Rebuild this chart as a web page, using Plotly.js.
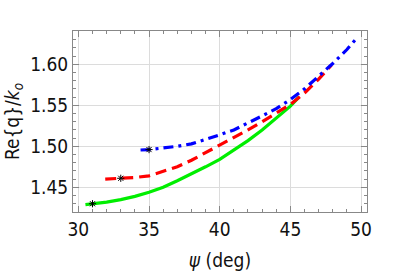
<!DOCTYPE html>
<html><head><meta charset="utf-8">
<script src="https://cdn.plot.ly/plotly-3.0.1.min.js"></script>
<style>body{margin:0;padding:0;background:#fff}#c{width:398px;height:272px}</style>
</head><body><div id="c"></div>
<script>
// green solid
const greenX = [30.5, 31, 32, 33, 34, 35, 36, 37, 38, 39, 40, 41, 42, 43, 44, 45, 45.6];
const greenY = [1.429, 1.430, 1.432, 1.435, 1.439, 1.444, 1.450, 1.458, 1.466, 1.475, 1.484, 1.495, 1.507, 1.520, 1.534, 1.549, 1.560];
// red dashed
const redX = [31.9, 33, 34, 35, 36, 37, 38, 39, 40, 41, 42, 43, 44, 45, 46, 47, 47.9];
const redY = [1.460, 1.461, 1.462, 1.464, 1.469, 1.475, 1.483, 1.492, 1.502, 1.511, 1.520, 1.530, 1.540, 1.551, 1.565, 1.582, 1.599];
// blue dash-dot
const blueX = [34.4, 35, 36, 37, 38, 39, 40, 41, 42, 43, 44, 45, 46, 47, 48, 49, 49.7];
const blueY = [1.4955, 1.496, 1.498, 1.500, 1.503, 1.508, 1.514, 1.520, 1.528, 1.537, 1.546, 1.557, 1.570, 1.585, 1.601, 1.618, 1.632];
// star markers
const starX = [31, 33, 35];
const starY = [1.430, 1.461, 1.496];

const F = '"DejaVu Sans Condensed", "DejaVu Sans", sans-serif';
const traces = [
  {x: greenX, y: greenY, mode: 'lines', line: {color: '#00ee00', width: 3.2}},
  {x: redX, y: redY, mode: 'lines', line: {color: '#ff0000', width: 3.2, dash: '11px,6px'}},
  {x: blueX, y: blueY, mode: 'lines', line: {color: '#0000ff', width: 3.2, dash: '10px,5px,3px,5px'}},
  {x: starX, y: starY, mode: 'markers', marker: {symbol: 'asterisk-open', size: 6, color: '#000', line: {color: '#000', width: 1}}}
];
const axisCommon = {
  showline: true, linecolor: '#888', linewidth: 1, mirror: 'allticks',
  ticks: 'inside', ticklen: 6, tickcolor: '#888', tickwidth: 1,
  showgrid: true, gridcolor: '#dcdcdc', gridwidth: 1, zeroline: false,
  tickfont: {family: F, size: 19, color: '#111'}
};
const layout = {
  width: 398, height: 272,
  margin: {l: 73, r: 31, t: 31, b: 60},
  paper_bgcolor: '#fff', plot_bgcolor: '#fff',
  showlegend: false,
  xaxis: Object.assign({}, axisCommon, {
    range: [29.62, 50.42], tickvals: [30, 35, 40, 45, 50], ticktext: ['30','35','40','45','50'],
    minor: {dtick: 1, tick0: 30, ticks: 'inside', ticklen: 3, tickcolor: '#888', showgrid: false},
    title: {text: '<i>ψ</i> (deg)', font: {family: F, size: 19, color: '#111'}, standoff: 14}
  }),
  yaxis: Object.assign({}, axisCommon, {
    range: [1.4199, 1.6406], tickvals: [1.45, 1.50, 1.55, 1.60], ticktext: ['1.45','1.50','1.55','1.60'],
    minor: {dtick: 0.01, tick0: 1.40, ticks: 'inside', ticklen: 3, tickcolor: '#888', showgrid: false},
    title: {text: 'Re{q}/<i>k<sub>o</sub></i>', font: {family: F, size: 19, color: '#111'}, standoff: 5}
  })
};
Plotly.newPlot('c', traces, layout, {displayModeBar: false, staticPlot: true});
</script></body></html>
